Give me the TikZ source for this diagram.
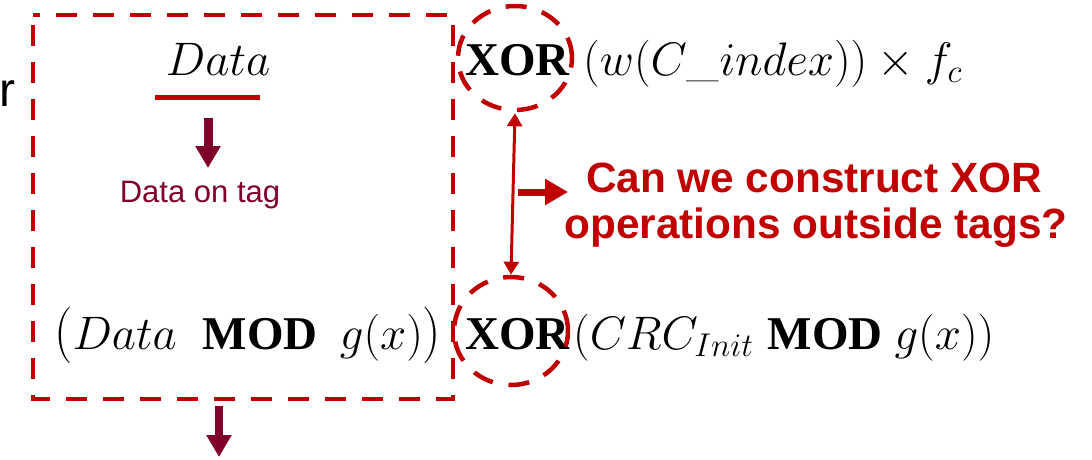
\RequirePackage{fix-cm}
\documentclass[tikz,border=0pt]{standalone}
\usepackage{fontspec}
\usepackage{graphicx}
\usetikzlibrary{arrows.meta,shapes.geometric}
\newfontfamily\arialfont{Liberation Sans}
\newfontfamily\timesfont{Liberation Serif}
\definecolor{boxred}{HTML}{C00000}
\definecolor{tagred}{HTML}{80002A}
\newcommand{\opb}[1]{\mbox{\timesfont\bfseries #1}}
\newcommand{\tallparen}[1]{\mbox{\scalebox{1.1}[1.2]{$#1$}}}

\begin{document}
\begin{tikzpicture}[x=1pt,y=-1pt,
  dashedred/.style={draw=boxred, line width=4.5pt, dash pattern=on 21pt off 16pt},
  mathtext/.style={inner sep=0pt, font=\fontsize{47}{56}\selectfont},
  tagtext/.style={inner sep=0pt, text=tagred, font=\arialfont\fontsize{31}{37}\selectfont},
  qtext/.style={inner sep=0pt, text=boxred, font=\arialfont\bfseries\fontsize{42.3}{48}\selectfont},
  fatarrow/.style={draw=tagred, line width=9pt, -{Triangle[width=24pt,length=22pt]}},
  vline/.style={draw=boxred, line width=3pt, {Triangle[width=15pt,length=13pt]}-{Triangle[width=15pt,length=13pt]}},
  qarrow/.style={draw=boxred, line width=7pt, -{Triangle[width=25pt,length=23pt]}}
]
\useasboundingbox (0,0) rectangle (1092,459);

% dashed frame round the tag-side terms
\draw[dashedred, dash phase=27pt] (33,15) rectangle (453,399);

% cut-off word at the left edge
\node[anchor=base east, inner sep=0pt, font=\arialfont\fontsize{48}{56}\selectfont] (rr) at (16,106) {r};

% data on the tag
\node[mathtext, anchor=base] (dtop) at (218,75) {$Data$};
\draw[draw=boxred, line width=5pt] (155,97) coordinate (ula) -- (260,97) coordinate (ulb);
\coordinate (a1s) at (208,118);
\coordinate (a1e) at (208,168);
\draw[fatarrow] (a1s) -- (a1e);
\node[tagtext, anchor=base] (tag) at (200,202) {Data on tag};

% top line: XOR with the channel term
\node[mathtext, anchor=base west] (xorT) at (465,75) {\opb{XOR}};
\node[mathtext, anchor=base west] (exprT) at (583,75) {$(w(C\_index))\times f_c$};
\node[ellipse, dashedred, minimum width=114pt, minimum height=104pt, inner sep=0pt] (cT) at (515,58) {};

% bottom line: CRC split into data part and initial part
\node[mathtext, anchor=base west] (exprL) at (54,349) {$\tallparen{(}Data\hspace{26pt}\opb{MOD}\hspace{22pt}g(x)\tallparen{)}$};
\node[mathtext, anchor=base west] (xorB) at (465,349) {\opb{XOR}};
\node[mathtext, anchor=base west] (exprR) at (573,349) {$(CRC_{Init}\hspace{14pt}\opb{MOD}\hspace{12pt}g(x))$};
\node[ellipse, dashedred, minimum width=114pt, minimum height=108pt, inner sep=0pt] (cB) at (511,331) {};

% link between the two XORs and the question
\draw[vline, shorten <=1pt] (cT.south) -- (cB.north);
\coordinate (qa) at (518,192);
\coordinate (qb) at (568,192);
\draw[qarrow] (qa) -- (qb);
\node[qtext, anchor=base] (q1) at (814,192) {Can we construct XOR};
\node[qtext, anchor=base] (q2) at (816,238) {operations outside tags?};

% output of the frame
\coordinate (a2s) at (219,406);
\coordinate (a2e) at (219,457);
\draw[fatarrow, line width=8pt] (a2s) -- (a2e);
\end{tikzpicture}
\end{document}
